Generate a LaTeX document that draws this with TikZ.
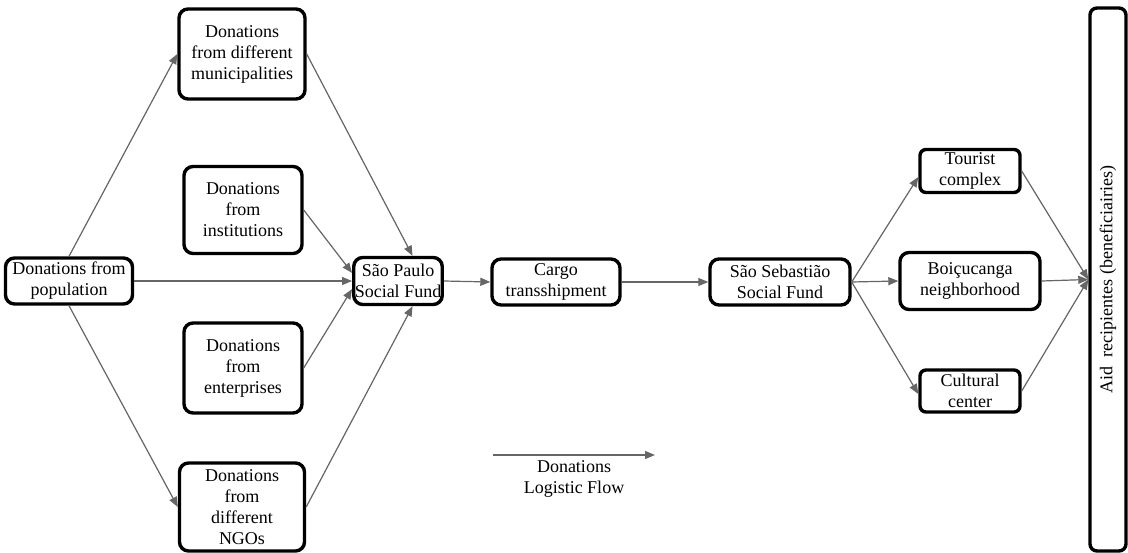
\documentclass[tikz,border=0pt]{standalone}
\usepackage{fontspec}
\setmainfont{Liberation Serif}
\usetikzlibrary{arrows.meta, positioning}

\begin{document}
\begin{tikzpicture}[x=1pt, y=-1pt,
    every node/.style={font=\rmfamily\fontsize{18}{21}\selectfont},
    box/.style={draw, line width=3.4pt, rounded corners=9pt, align=center,
                inner sep=1pt},
    flow/.style={-{Triangle[length=10pt, width=8pt]}, line width=1.2pt,
                 draw=black!60, fill=black!60}]
    \useasboundingbox (0,0) rectangle (1128,553);
    % donors
    \node[box, minimum width=127pt, minimum height=46pt] (pop) at (69,281) {Donations from\\population};
    \node[box, minimum width=126pt, minimum height=90pt] (mun) at (242,54) {Donations\\from different\\municipalities};
    \node[box, minimum width=118pt, minimum height=87pt] (inst) at (243,210) {Donations\\from\\institutions};
    \node[box, minimum width=118pt, minimum height=90pt] (ent) at (243,368) {Donations\\from\\enterprises};
    \node[box, minimum width=125pt, minimum height=88pt] (ngo) at (242,507) {Donations\\from\\different\\NGOs};
    % funds and transport
    \node[box, minimum width=83pt, minimum height=47pt] (sp) at (398,281) {São Paulo\\Social Fund};
    \node[box, minimum width=128pt, minimum height=46pt] (cargo) at (556,282) {Cargo\\transshipment};
    \node[box, minimum width=140pt, minimum height=46pt] (ss) at (780,282) {São Sebastião\\Social Fund};
    % destinations
    \node[box, rounded corners=6pt, minimum width=100pt, minimum height=43pt] (tour) at (970,171) {Tourist\\complex};
    \node[box, minimum width=140pt, minimum height=57pt] (boi) at (970,281) {Boiçucanga\\neighborhood};
    \node[box, rounded corners=6pt, minimum width=100pt, minimum height=42pt] (cult) at (970,391) {Cultural\\center};
    \node[box, rounded corners=7pt, minimum width=543pt, minimum height=36pt, rotate=90] (aid) at (1108,279.5) {Aid\ \ recipientes (beneficiairies)};

    \draw[flow] (pop.north) -- (mun.west);
    \draw[flow] (pop.south) -- (ngo.west);
    \draw[flow] (pop.east) -- (sp.west);
    \draw[flow] (mun.east) -- (sp.60);
    \draw[flow] (inst.east) -- (sp.170);
    \draw[flow] (ent.east) -- (sp.190);
    \draw[flow] (ngo.east) -- (sp.-60);
    \draw[flow] (sp.east) -- (cargo.west);
    \draw[flow] (cargo.east) -- (ss.west);
    \draw[flow] (ss.east) -- ([yshift=-6pt]tour.west);
    \draw[flow] (ss.east) -- (boi.west);
    \draw[flow] (ss.east) -- ([yshift=-3pt]cult.west);
    \draw[flow] (tour.east) -- (aid.north);
    \draw[flow] (boi.east) -- (aid.north);
    \draw[flow] (cult.east) -- (aid.north);

    % legend
    \coordinate (lgA) at (493,455);
    \coordinate (lgB) at (655,455);
    \coordinate (lgM) at (574,455);
    \draw[flow] (lgA) -- (lgB);
    \node[align=center, below=2pt of lgM] (lgtext) {Donations\\Logistic Flow};
\end{tikzpicture}
\end{document}
